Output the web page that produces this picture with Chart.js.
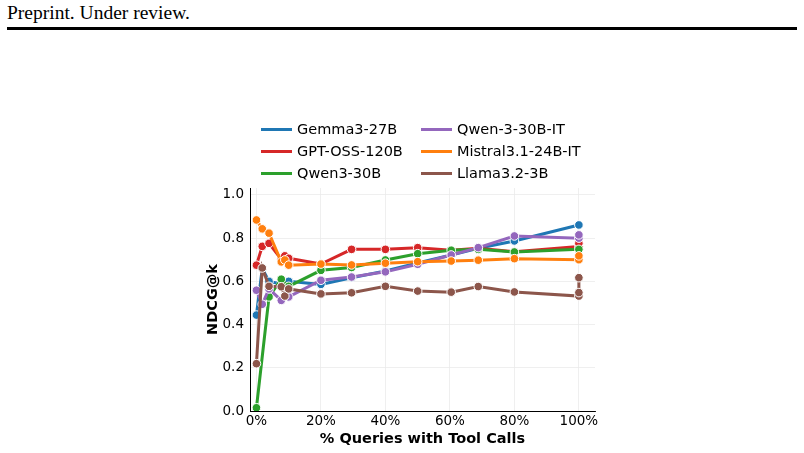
<!DOCTYPE html>
<html>
<head>
<meta charset="utf-8">
<script src="https://cdn.jsdelivr.net/npm/chart.js@4.4.1/dist/chart.umd.min.js"></script>
<style>
  body { margin: 0; background: #fff; width: 804px; height: 453px; overflow: hidden; position: relative; }
  #head { position: absolute; left: 7px; top: 2px; font: 19.5px "Liberation Serif", serif; color: #000; }
  #rule { position: absolute; left: 7px; top: 27px; width: 790px; height: 3px; background: #000; }
  #wrap { position: absolute; left: 0; top: 0; width: 804px; height: 453px; }
  .item { position: absolute; font: 14.5px "DejaVu Sans", sans-serif; color: #000; white-space: nowrap; line-height: 18px; }
  .swatch { position: absolute; height: 3px; width: 31px; }
</style>
</head>
<body>
<div id="head">Preprint. Under review.</div>
<div id="rule"></div>
<div id="wrap"><canvas id="chart"></canvas></div>
<div id="legend"></div>
<script>
const models = ['Gemma3-27B', 'GPT-OSS-120B', 'Qwen3-30B', 'Qwen-3-30B-IT', 'Mistral3.1-24B-IT', 'Llama3.2-3B']
const colors = ['#1f77b4', '#d62728', '#2ca02c', '#9467bd', '#ff7f0e', '#8c564b']

// % of queries with tool calls (x) and NDCG@k (y) per model
const pctGemma = [0, 1.8, 3.9, 7.7, 10, 20, 29.5, 40, 50, 60.4, 68.8, 80, 100]
const ndcgGemma = [0.444, 0.66, 0.60, 0.588, 0.60, 0.586, 0.617, 0.648, 0.685, 0.722, 0.753, 0.787, 0.861]

const pctGpt = [0, 1.8, 3.9, 7.7, 8.8, 10, 20, 29.5, 40, 50, 60.4, 68.8, 80, 100, 100]
const ndcgGpt = [0.675, 0.762, 0.776, 0.702, 0.718, 0.707, 0.68, 0.748, 0.748, 0.756, 0.744, 0.753, 0.737, 0.761, 0.776]

const pctQwen = [0, 3.9, 7.7, 10, 20, 29.5, 40, 50, 60.4, 68.8, 80, 100]
const ndcgQwen = [0.015, 0.528, 0.61, 0.577, 0.651, 0.664, 0.699, 0.728, 0.744, 0.748, 0.736, 0.748]

const pctQwenIt = [0, 1.8, 3.9, 7.7, 10, 20, 29.5, 40, 50, 60.4, 68.8, 80, 100, 100]
const ndcgQwenIt = [0.559, 0.494, 0.565, 0.512, 0.528, 0.605, 0.62, 0.644, 0.679, 0.722, 0.756, 0.81, 0.80, 0.815]

const pctMistral = [0, 1.8, 3.9, 7.7, 8.8, 10, 20, 29.5, 40, 50, 60.4, 68.8, 80, 100, 100]
const ndcgMistral = [0.884, 0.843, 0.823, 0.69, 0.699, 0.675, 0.68, 0.676, 0.684, 0.691, 0.694, 0.698, 0.705, 0.70, 0.718]

const pctLlama = [0, 1.8, 3.9, 7.7, 8.8, 10, 20, 29.5, 40, 50, 60.4, 68.8, 80, 100, 100, 100]
const ndcgLlama = [0.219, 0.662, 0.577, 0.575, 0.532, 0.565, 0.542, 0.547, 0.577, 0.555, 0.55, 0.576, 0.551, 0.532, 0.548, 0.617]

const xTicks = [0, 20, 40, 60, 80, 100]
const yTicks = [0, 0.2, 0.4, 0.6, 0.8, 1.0]

const xs = [pctGemma, pctGpt, pctQwen, pctQwenIt, pctMistral, pctLlama]
const ys = [ndcgGemma, ndcgGpt, ndcgQwen, ndcgQwenIt, ndcgMistral, ndcgLlama]

const font = { family: 'DejaVu Sans', size: 13.5 }

const datasets = models.map((name, i) => ({
    label: name,
    data: xs[i].map((x, j) => ({ x: x, y: ys[i][j] })),
    borderColor: colors[i],
    backgroundColor: colors[i],
    borderWidth: 3,
    pointRadius: 4.3,
    pointBorderColor: '#fff',
    pointBorderWidth: 1,
    pointBackgroundColor: colors[i],
    order: models.length - i,
    tension: 0
}))

new Chart(document.getElementById('chart'), {
    type: 'line',
    data: { datasets: datasets },
    options: {
        responsive: true,
        maintainAspectRatio: false,
        animation: false,
        layout: { padding: { left: 205, right: 209, top: 188, bottom: 5 } },
        plugins: { legend: { display: false }, tooltip: { enabled: false } },
        scales: {
            x: {
                type: 'linear',
                min: -2,
                max: 105,
                afterBuildTicks: (s) => { s.ticks = xTicks.map(v => ({ value: v })) },
                afterFit: (s) => { s.height = 37 },
                ticks: { font: font, color: '#000', padding: 2, maxRotation: 0, callback: (v) => v + '%' },
                grid: { color: '#ebebeb', lineWidth: 0.8, drawTicks: false },
                border: { color: '#000', width: 1 },
                title: { display: true, text: '% Queries with Tool Calls', color: '#000',
                         font: { family: 'DejaVu Sans', size: 14.5, weight: 'bold' }, padding: 0 }
            },
            y: {
                min: 0,
                max: 1.032,
                afterBuildTicks: (s) => { s.ticks = yTicks.map(v => ({ value: v })) },
                afterFit: (s) => { s.width = 45 },
                ticks: { font: font, color: '#000', padding: 6, callback: (v) => v.toFixed(1) },
                grid: { color: '#ebebeb', lineWidth: 0.8, drawTicks: false },
                border: { color: '#000', width: 1 },
                title: { display: true, text: 'NDCG@k', color: '#000',
                         font: { family: 'DejaVu Sans', size: 14.5, weight: 'bold' }, padding: 0 }
            }
        }
    }
})

// legend: two columns, filled column by column
const legend = document.getElementById('legend')
const colX = [261, 421]
const rowY = [129, 151, 173]
models.forEach((name, i) => {
    const col = Math.floor(i / 3), row = i % 3
    const sw = document.createElement('div')
    sw.className = 'swatch'
    sw.style.background = colors[i]
    sw.style.left = colX[col] + 'px'
    sw.style.top = (rowY[row] - 1.5) + 'px'
    legend.appendChild(sw)
    const t = document.createElement('div')
    t.className = 'item'
    t.textContent = name
    t.style.left = (colX[col] + 36) + 'px'
    t.style.top = (rowY[row] - 9) + 'px'
    legend.appendChild(t)
})
</script>
</body>
</html>
